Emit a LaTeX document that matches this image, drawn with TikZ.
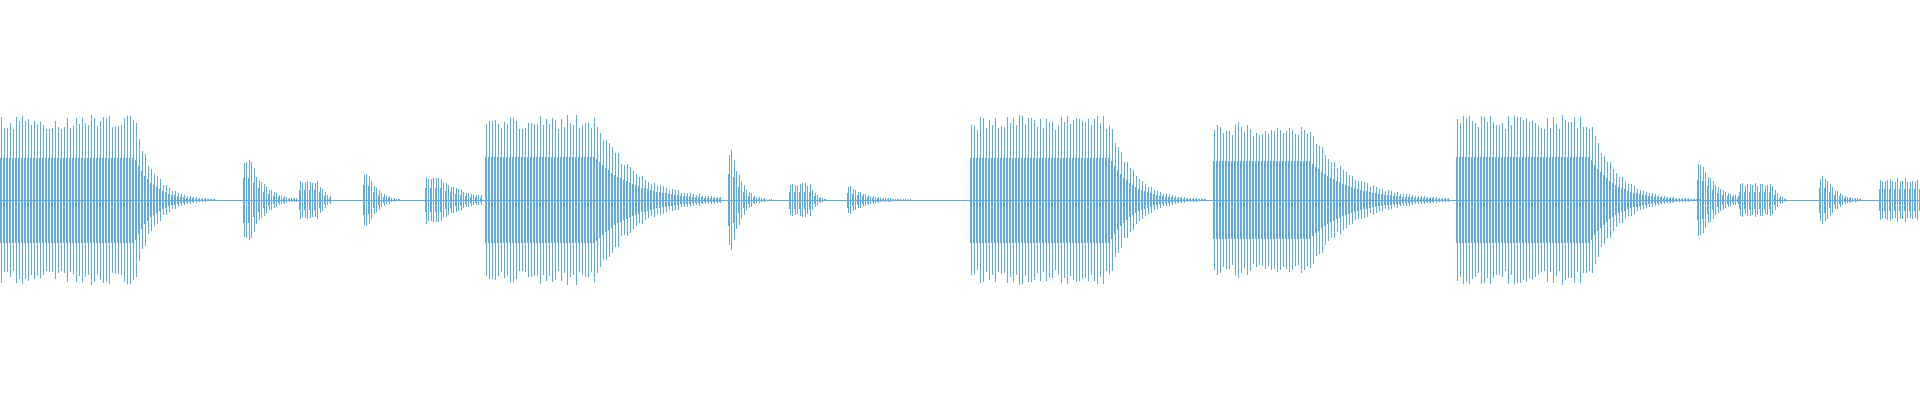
\documentclass[tikz,border=0pt]{standalone}
\definecolor{wave}{RGB}{93,171,226}
\tikzset{wv/.style={wave,line width=0.6pt},core/.style={wave,line width=1.1pt}}
% \burst{x0}{x1}{A}{hold end}{tau}{step}
\newcommand\burst[6]{%
  \pgfmathsetmacro\xs{#1+#6}
  \foreach \x in {#1,\xs,...,#2}{%
    \pgfmathsetmacro\a{#3*exp(-max(0,\x-#4)/#5)}
    \pgfmathsetmacro\b{\a*(0.82+0.18*rnd)}
    \draw[wv] (\x,200-\b) -- (\x,200+\b);
    \draw[core] (\x,200-0.5*\a) -- (\x,200+0.5*\a);
  }}
\begin{document}
\begin{tikzpicture}[x=1pt,y=-1pt]
\pgfmathsetseed{7}
\useasboundingbox (0,0) rectangle (1920,400);
\draw[wave,line width=0.4pt] (0,200) -- (1920,200);
\burst{1}{215}{85}{135}{18}{3}
\burst{244}{298}{45}{250}{14}{2.5}
\burst{300}{332}{20}{318}{8}{2.5}
\burst{364}{400}{30}{368}{10}{2.5}
\burst{426}{482}{24}{440}{25}{2.5}
\burst{486}{720}{86}{595}{38}{3}
\burst{729}{790}{52}{733}{9}{2.5}
\burst{790}{826}{17}{810}{6}{2.5}
\burst{848}{950}{15}{850}{18}{2.5}
\burst{971}{1205}{85}{1110}{22}{3}
\burst{1214}{1450}{78}{1310}{38}{3}
\burst{1457}{1705}{86}{1590}{25}{3}
\burst{1698}{1740}{40}{1702}{16}{2.5}
\burst{1740}{1785}{17}{1772}{6}{2.5}
\burst{1820}{1862}{25}{1825}{12}{2.5}
\burst{1880}{1920}{22}{1920}{12}{2.5}
\end{tikzpicture}
\end{document}
